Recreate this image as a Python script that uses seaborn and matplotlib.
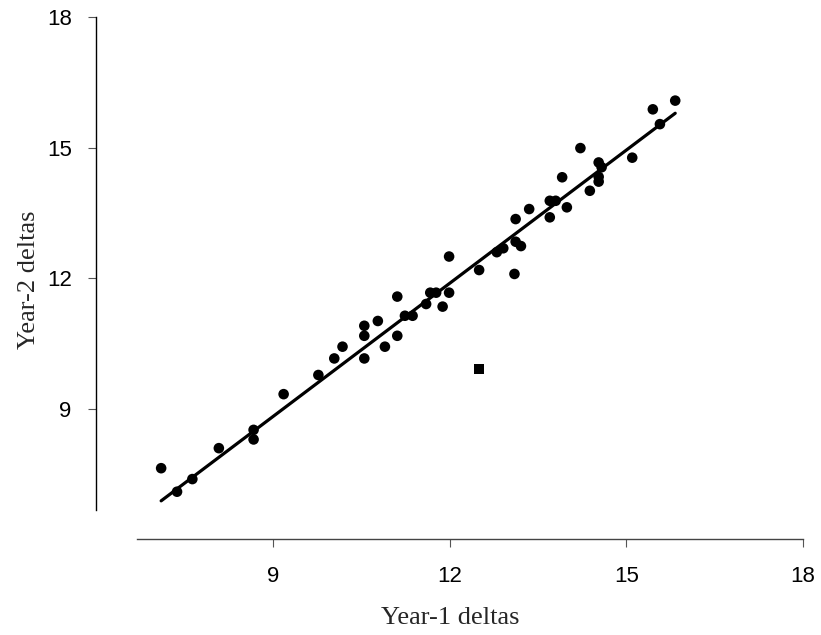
import numpy as np
import pandas as pd
import matplotlib
matplotlib.use("Agg")
import matplotlib.pyplot as plt
import seaborn as sns

# year-1 / year-2 deltas
year1 = [7.10, 7.37, 7.63, 8.08, 8.67, 8.67, 9.18, 9.77, 10.04, 10.18,
         10.55, 10.55, 10.55, 10.78, 10.90, 11.11, 11.11, 11.24, 11.37, 11.60,
         11.67, 11.77, 11.88, 11.99, 11.99, 12.50, 12.80, 12.91, 13.10, 13.12,
         13.21, 13.12, 13.35, 13.70, 13.70, 13.80, 13.99, 13.91, 14.22, 14.38,
         14.53, 14.58, 14.53, 14.53, 15.10, 15.57, 15.45, 15.83]
year2 = [7.64, 7.10, 7.39, 8.10, 8.52, 8.30, 9.34, 9.78, 10.16, 10.43,
         10.91, 10.68, 10.16, 11.02, 10.43, 11.58, 10.68, 11.14, 11.14, 11.41,
         11.67, 11.67, 11.35, 11.67, 12.50, 12.19, 12.60, 12.69, 12.10, 12.84,
         12.74, 13.36, 13.59, 13.40, 13.78, 13.78, 13.63, 14.32, 14.99, 14.01,
         14.66, 14.55, 14.33, 14.22, 14.77, 15.54, 15.88, 16.08]

# the one excluded point
outlier_x = [12.50]
outlier_y = [9.91]

# fitted trend line end points
trend_x = [7.10, 15.83]
trend_y = [6.89, 15.79]

ticks = [9, 12, 15, 18]

df = pd.DataFrame({"year1": year1, "year2": year2})
out = pd.DataFrame({"year1": outlier_x, "year2": outlier_y})
trend = pd.DataFrame({"year1": trend_x, "year2": trend_y})

sns.set_style("ticks")
plt.rcParams["font.family"] = ["Liberation Sans", "DejaVu Sans"]

fig = plt.figure(figsize=(8.21, 6.35), dpi=100)
ax = fig.add_axes([137 / 821, 1 - 510 / 635, (803 - 137) / 821, (510 - 17) / 635])

sns.lineplot(data=trend, x="year1", y="year2", ax=ax, color="black", lw=2.3)
sns.scatterplot(data=df, x="year1", y="year2", ax=ax, color="black",
                s=58, edgecolor="none", marker="o", zorder=3)
sns.scatterplot(data=out, x="year1", y="year2", ax=ax, color="black",
                s=52, edgecolor="none", marker="s", zorder=3)

ax.set_xlim(6.69, 18)
ax.set_ylim(6.68, 18)
ax.set_xticks(ticks)
ax.set_yticks(ticks)
ax.tick_params(axis="both", length=5.5, width=0.8, color="#555555",
               labelsize=16, labelcolor="black")
ax.tick_params(axis="x", pad=14)
ax.tick_params(axis="y", pad=12)

sns.despine(ax=ax)
ax.spines["left"].set_position(("outward", 29.5))
ax.spines["bottom"].set_position(("outward", 21))
ax.spines["left"].set_color("black")
ax.spines["bottom"].set_color("#444444")
ax.spines["left"].set_linewidth(1.0)
ax.spines["bottom"].set_linewidth(1.0)

ax.set_xlabel("Year-1 deltas", family="Liberation Serif", fontsize=19)
ax.set_ylabel("Year-2 deltas", family="Liberation Serif", fontsize=19)
ax.xaxis.set_label_coords(0.47, -0.197)
ax.yaxis.set_label_coords(-0.146, 0.467)

fig.savefig("out.png", dpi=100)
